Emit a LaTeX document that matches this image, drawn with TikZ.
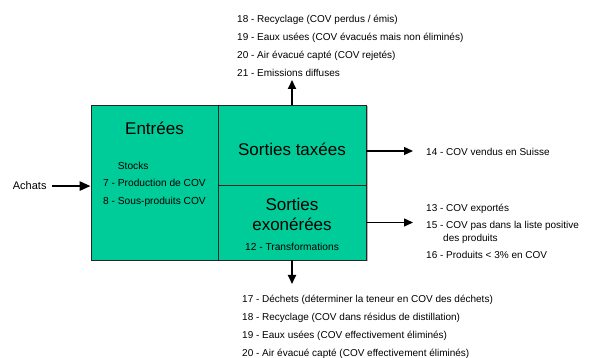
\documentclass[tikz,border=0pt]{standalone}
\usepackage{fontspec}
\setmainfont{Liberation Sans}
\usetikzlibrary{positioning}
\usetikzlibrary{arrows.meta}
\definecolor{covgreen}{RGB}{0,204,153}

\begin{document}
\begin{tikzpicture}[x=1pt, y=1pt,
    bloc/.style={draw=black!85, line width=0.8pt, fill=covgreen, inner sep=0pt},
    big/.style={font=\fontsize{17}{20}\selectfont, inner sep=0pt, anchor=base},
    intext/.style={font=\fontsize{10.2}{12}\selectfont, inner sep=0pt},
    liste/.style={font=\fontsize{10}{12}\selectfont, inner sep=0pt, anchor=base west},
    fl/.style={-{Triangle[length=9pt,width=8pt]}, line width=1.3pt}]

    \useasboundingbox (0,0) rectangle (595,358);

    % ombre
    \fill[black!30] (93,96.5) rectangle (367.5,251.5);
    % blocs
    \node[bloc, minimum width=127pt, minimum height=155pt] (entrees) at (154.5,175.5) {};
    \node[bloc, minimum width=148pt, minimum height=80pt] (taxees) at (292,213) {};
    \node[bloc, minimum width=148pt, minimum height=75pt] (exo) at (292,135.5) {};

    % textes des blocs
    \node[big] (tentrees) at (154.5,223) {Entrées};
    \node[intext, anchor=base west] (stocks) at (117.7,188.4) {Stocks};
    \node[intext, anchor=base west] (prod) at (103,171.4) {7 - Production de COV};
    \node[intext, anchor=base west] (sousprod) at (103,153.4) {8 - Sous-produits COV};
    \node[big] (ttaxees) at (292,202) {Sorties taxées};
    \node[big] (texo) at (292,147) {Sorties};
    \node[big] (texob) at (292,127) {exonérées};
    \node[intext, anchor=base] (transf) at (292,107.7) {12 - Transformations};

    % achats
    \node[font=\fontsize{11}{13}\selectfont, inner sep=0pt, anchor=base west] (achats) at (12.7,168) {Achats};
    \draw[line width=2.6pt, -{Triangle[length=11pt,width=9pt]}] ([xshift=5pt]achats.east) -- (achats.east -| entrees.west);

    % fleches
    \coordinate (haut) at (292,278);
    \coordinate (bas) at (292,74);
    \coordinate (d14) at (413,207);
    \coordinate (d13) at (413,135.5);
    \draw[fl, line width=1.8pt] (taxees.north) -- (haut);
    \draw[fl, line width=1.8pt] (exo.south) -- (bas);
    \draw[fl] (taxees.east |- d14) -- (d14);
    \draw[fl] (exo.east) -- (d13);

    % listes
    \node[liste] (h18) at (237,335.4) {18 - Recyclage (COV perdus / émis)};
    \node[liste] (h19) at (237,317.4) {19 - Eaux usées (COV évacués mais non éliminés)};
    \node[liste] (h20) at (237,299.4) {20 - Air évacué capté (COV rejetés)};
    \node[liste] (h21) at (237,281.4) {21 - Emissions diffuses};

    \node[liste] (d14t) at (426,202.6) {14 - COV vendus en Suisse};
    \node[liste] (d13t) at (426,146.7) {13 - COV exportés};
    \node[liste] (d15t) at (426,129.4) {15 - COV pas dans la liste positive};
    \node[liste] (d15b) at (443,116.1) {des produits};
    \node[liste] (d16t) at (426,99.9) {16 - Produits < 3\% en COV};

    \node[liste] (b17) at (242,55.3) {17 - Déchets (déterminer la teneur en COV des déchets)};
    \node[liste] (b18) at (242,37.3) {18 - Recyclage (COV dans résidus de distillation)};
    \node[liste] (b19) at (242,19.3) {19 - Eaux usées (COV effectivement éliminés)};
    \node[liste] (b20) at (242,1.3) {20 - Air évacué capté (COV effectivement éliminés)};
\end{tikzpicture}
\end{document}
